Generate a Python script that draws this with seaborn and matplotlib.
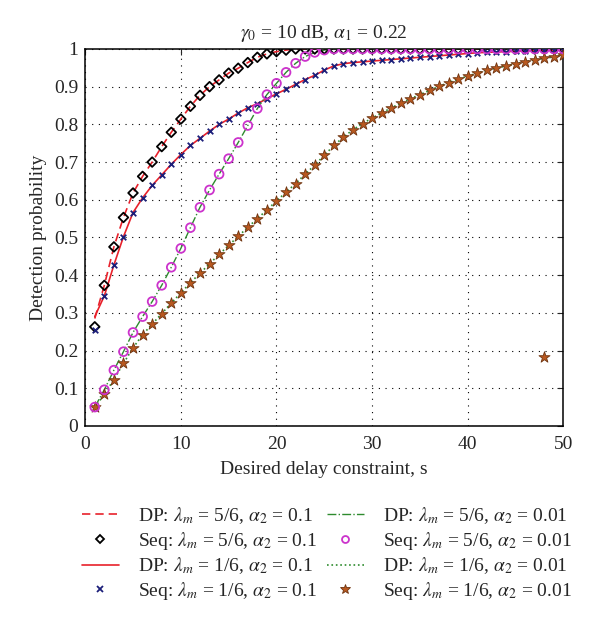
import numpy as np
import pandas as pd
import seaborn as sns
import matplotlib.pyplot as plt
from matplotlib.lines import Line2D

# Data (x = desired delay constraint, 1..50 s)
delay = list(range(1, 51))

seq_56_a01 = [0.263, 0.373, 0.475, 0.553, 0.618, 0.662, 0.700, 0.741, 0.779, 0.814,
              0.848, 0.877, 0.900, 0.918, 0.936, 0.949, 0.964, 0.978, 0.987, 0.993,
              0.997] + [1.0] * 29
dp_56_a01 = [0.285] + seq_56_a01[1:]

seq_16_a01 = [0.255, 0.345, 0.427, 0.502, 0.566, 0.605, 0.638, 0.666, 0.694, 0.720,
              0.744, 0.763, 0.782, 0.800, 0.814, 0.830, 0.844, 0.855, 0.868, 0.881,
              0.893, 0.906, 0.919, 0.930, 0.944, 0.955, 0.961, 0.964, 0.966, 0.968,
              0.970, 0.972, 0.974, 0.976, 0.978, 0.980, 0.982, 0.984, 0.986, 0.988,
              0.990, 0.991, 0.992, 0.993, 0.994, 0.995, 0.996, 0.997, 0.997, 0.998]
dp_16_a01 = [0.290] + seq_16_a01[1:]

seq_56_a001 = [0.050, 0.096, 0.148, 0.197, 0.248, 0.290, 0.330, 0.373, 0.421, 0.471,
               0.526, 0.580, 0.626, 0.668, 0.709, 0.752, 0.797, 0.842, 0.879, 0.909,
               0.938, 0.962, 0.980, 0.991, 0.997] + [1.0] * 25
dp_56_a001 = list(seq_56_a001)

seq_16_a001 = [0.049, 0.084, 0.123, 0.166, 0.207, 0.242, 0.270, 0.298, 0.326, 0.353,
               0.380, 0.405, 0.430, 0.455, 0.479, 0.503, 0.527, 0.550, 0.573, 0.597,
               0.620, 0.643, 0.668, 0.692, 0.718, 0.744, 0.766, 0.786, 0.802, 0.817,
               0.830, 0.844, 0.856, 0.868, 0.879, 0.890, 0.901, 0.911, 0.920, 0.928,
               0.936, 0.943, 0.949, 0.955, 0.961, 0.966, 0.971, 0.975, 0.979, 0.984]
dp_16_a001 = list(seq_16_a001)

# stray star near the bottom right of the reference
stray_x = [48]
stray_y = [0.183]

labels = [
    r'DP: $\lambda_m$ = 5/6, $\alpha_2$ = 0.1',
    r'Seq: $\lambda_m$ = 5/6, $\alpha_2$ = 0.1',
    r'DP: $\lambda_m$ = 1/6, $\alpha_2$ = 0.1',
    r'Seq: $\lambda_m$ = 1/6, $\alpha_2$ = 0.1',
    r'DP: $\lambda_m$ = 5/6, $\alpha_2$ = 0.01',
    r'Seq: $\lambda_m$ = 5/6, $\alpha_2$ = 0.01',
    r'DP: $\lambda_m$ = 1/6, $\alpha_2$ = 0.01',
    r'Seq: $\lambda_m$ = 1/6, $\alpha_2$ = 0.01',
]

sns.set_style('white')
plt.rcParams['font.family'] = ['Liberation Serif', 'DejaVu Serif']
plt.rcParams['mathtext.fontset'] = 'stix'

red = '#e8212b'
green = '#2e8b2e'
navy = '#1c1f7a'
magenta = '#cc33cc'
star_face = '#b8581f'
star_edge = '#6e3410'
fs = 14

fig = plt.figure(figsize=(6, 6.2), dpi=100)
ax = fig.add_axes([0.142, 0.313, 0.797, 0.608])

# DP curves
sns.lineplot(x=delay, y=dp_56_a01, ax=ax, color=red, linestyle=(0, (5, 3)), linewidth=1.2)
sns.lineplot(x=delay, y=dp_16_a01, ax=ax, color=red, linestyle='-', linewidth=1.2)
sns.lineplot(x=delay, y=dp_56_a001, ax=ax, color=green, linestyle='-.', linewidth=1.0)
sns.lineplot(x=delay, y=dp_16_a001, ax=ax, color=green, linestyle=':', linewidth=1.2)

# Sequential markers
sns.scatterplot(x=delay, y=seq_56_a01, ax=ax, marker='D', s=24, facecolor='none',
                edgecolor='black', linewidth=1.3, zorder=3)
sns.scatterplot(x=delay, y=seq_16_a01, ax=ax, marker='x', s=16, color=navy,
                linewidth=1.3, zorder=3)
sns.scatterplot(x=delay, y=seq_56_a001, ax=ax, marker='o', s=40, facecolor='none',
                edgecolor=magenta, linewidth=1.3, zorder=4)
sns.scatterplot(x=delay, y=seq_16_a001, ax=ax, marker='*', s=70, color=star_face,
                edgecolor=star_edge, linewidth=0.6, zorder=3)
sns.scatterplot(x=stray_x, y=stray_y, ax=ax, marker='*', s=70, color=star_face,
                edgecolor=star_edge, linewidth=0.6, zorder=3)

ax.set_xlim(0, 50)
ax.set_ylim(0, 1)
ax.set_xticks(np.arange(0, 51, 10))
ax.set_yticks(np.round(np.arange(0, 1.01, 0.1), 1))
ax.set_yticklabels(['0', '0.1', '0.2', '0.3', '0.4', '0.5', '0.6', '0.7', '0.8', '0.9', '1'])
ax.grid(True, color='black', linestyle=(0, (1, 5)), linewidth=0.8)
ax.tick_params(direction='in', top=True, right=True, length=4, labelsize=fs)
ax.tick_params(axis='y', pad=5)
ax.tick_params(axis='x', pad=7)
for sp in ax.spines.values():
    sp.set_linewidth(1.1)
    sp.set_color('black')

ax.set_xlabel('Desired delay constraint, s', fontsize=fs, labelpad=6)
ax.set_ylabel('Detection probability', fontsize=fs, labelpad=5)
ax.set_title(r'$\gamma_0$ = 10 dB, $\alpha_1$ = 0.22', fontsize=fs, pad=8)

handles = [
    Line2D([], [], color=red, linestyle=(0, (5, 3)), linewidth=1.2),
    Line2D([], [], color='black', marker='D', markersize=4.5, markerfacecolor='none',
           linestyle='none', markeredgewidth=1.3),
    Line2D([], [], color=red, linestyle='-', linewidth=1.2),
    Line2D([], [], color=navy, marker='x', markersize=4, linestyle='none', markeredgewidth=1.3),
    Line2D([], [], color=green, linestyle='-.', linewidth=1.0),
    Line2D([], [], color=magenta, marker='o', markersize=5, markerfacecolor='none',
           linestyle='none', markeredgewidth=1.3),
    Line2D([], [], color=green, linestyle=':', linewidth=1.2),
    Line2D([], [], color=star_face, marker='*', markersize=7, markeredgecolor=star_edge,
           markeredgewidth=0.6, linestyle='none'),
]
fig.legend(handles, labels, loc='upper center', bbox_to_anchor=(0.545, 0.214), ncol=2,
           frameon=False, fontsize=fs, handlelength=1.9, columnspacing=0.5,
           labelspacing=0.2, handletextpad=1.0)

fig.savefig('out.png', dpi=100)
